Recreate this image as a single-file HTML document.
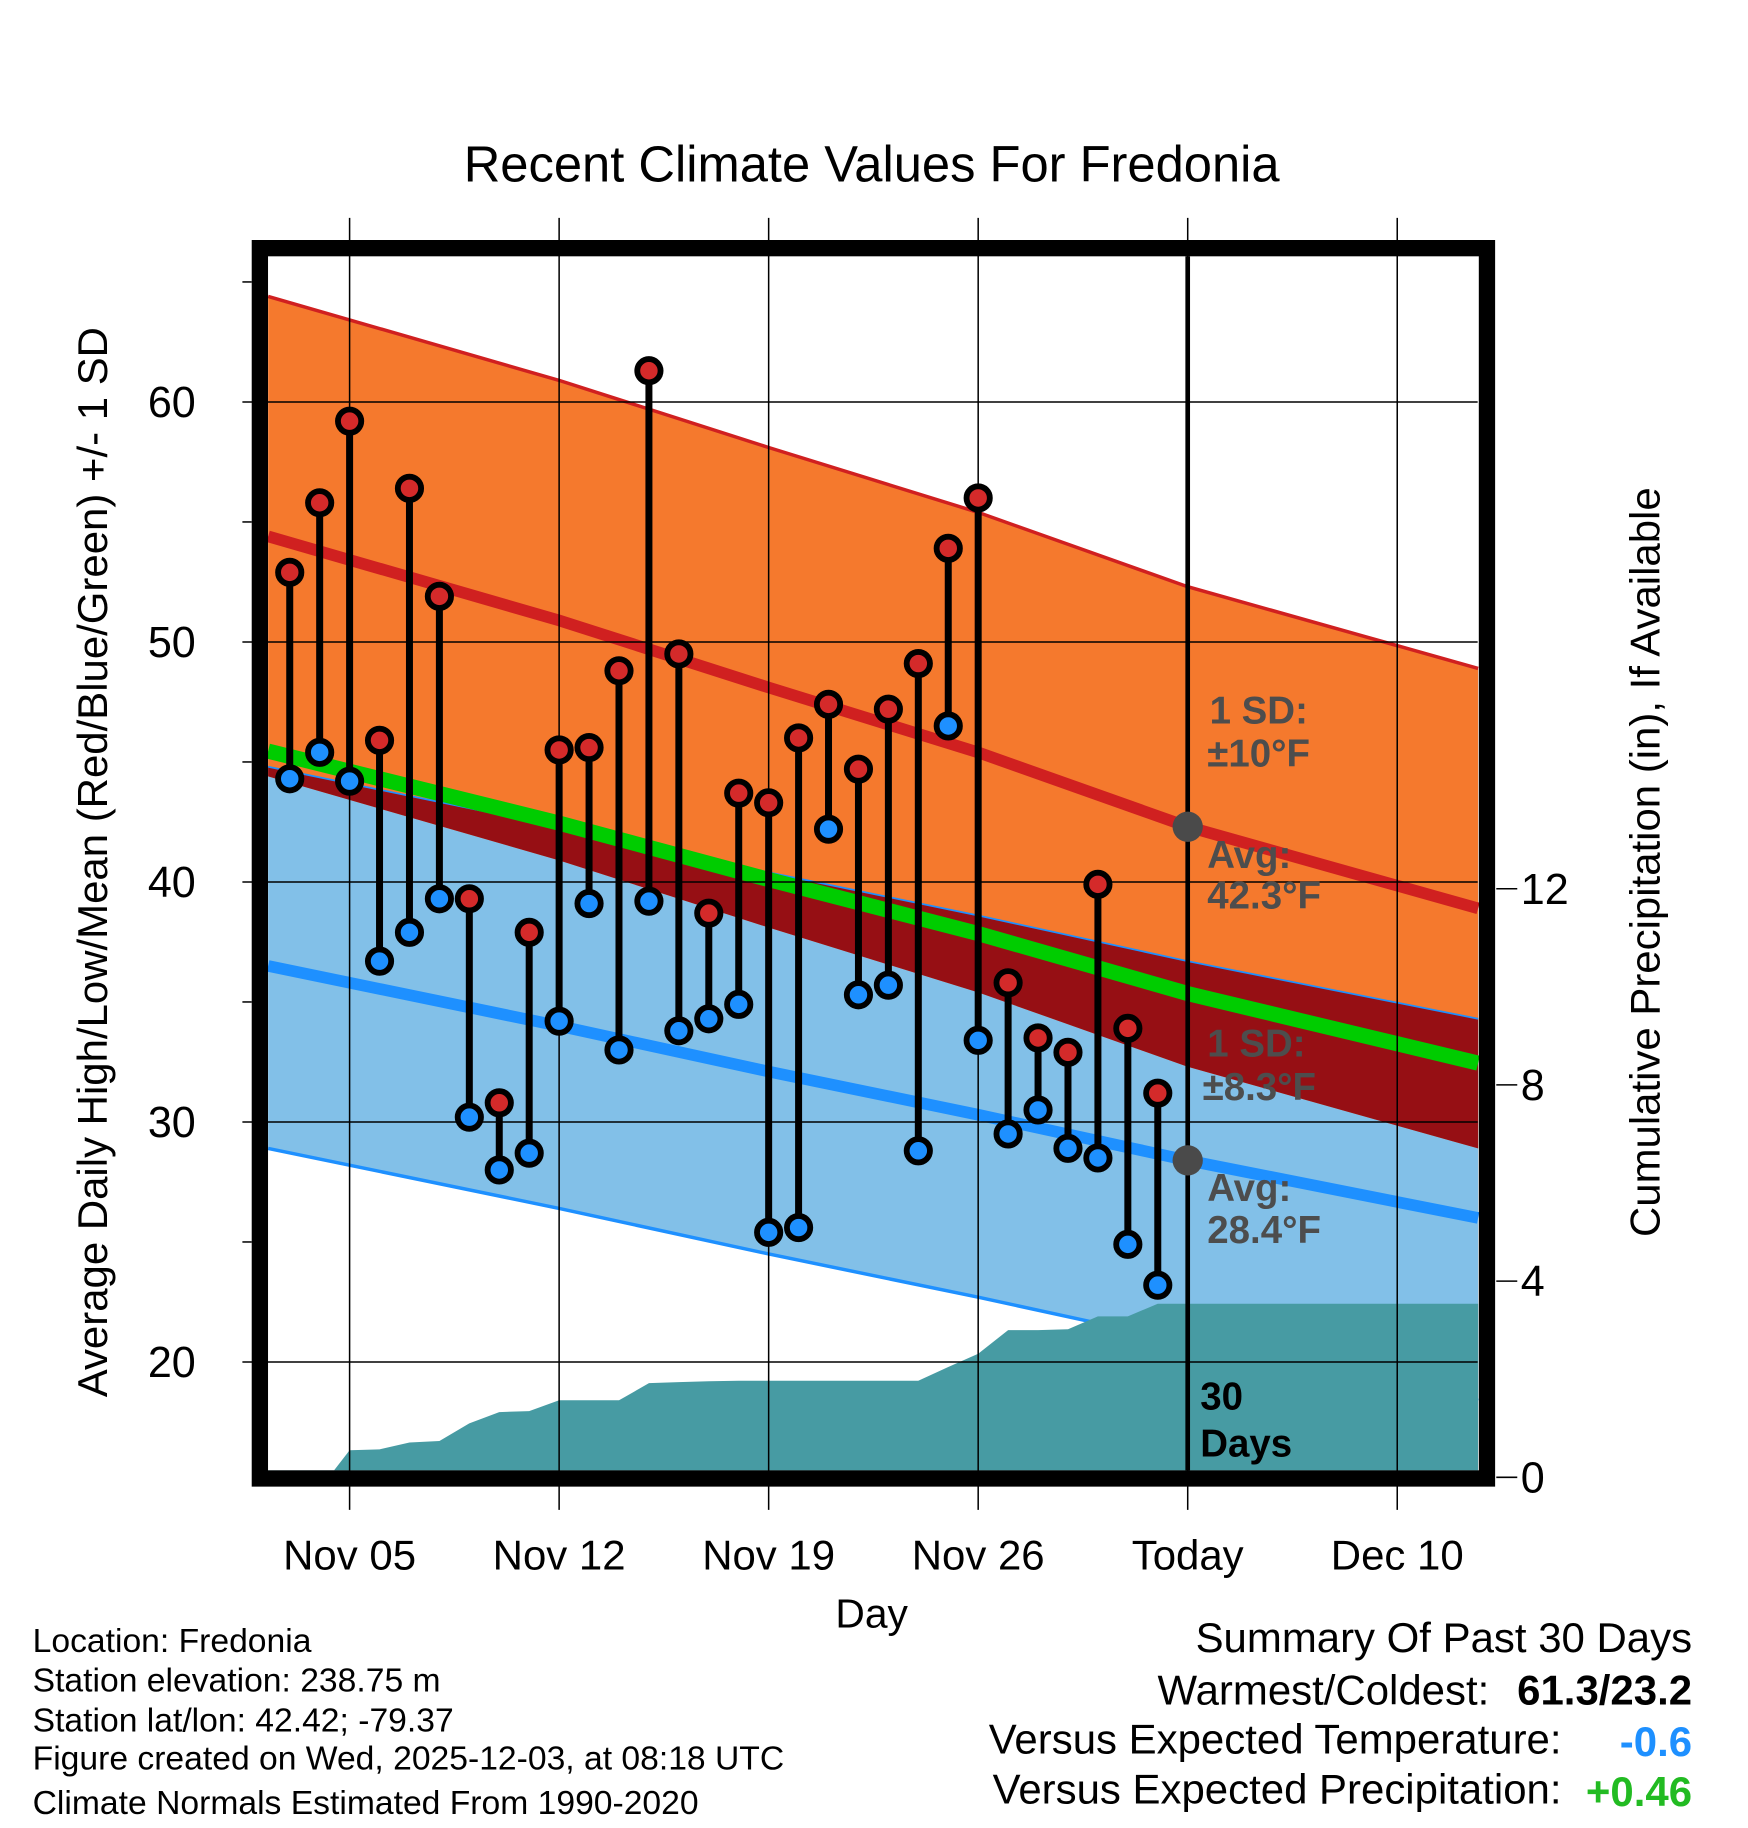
<!DOCTYPE html>
<html><head><meta charset="utf-8"><style>
html,body{margin:0;padding:0;background:#fff}
svg{display:block;font-family:"Liberation Sans",Arial,sans-serif}
</style></head><body>
<svg id="chart" width="1748" height="1828" viewBox="0 0 1500 1569" preserveAspectRatio="none" xmlns="http://www.w3.org/2000/svg">
<g id="bands"></g>
<g id="precip"></g>
<g id="lines"></g>
<g id="grid"></g>
<g id="marks"></g>
<g id="annot"></g>
<g id="frame"></g>
<g id="texts"></g>
</svg>
<script>
// ---- data ----
const dayLabels = ["Nov 05","Nov 12","Nov 19","Nov 26","Today","Dec 10"];
const dayTicks = [5,12,19,26,33,40];
const tempTicks = [20,30,40,50,60];
const minorTicks = [25,35,45,55,65];
const precipTicks = [0,4,8,12];
const normDays = [2.28,12,19,26,33,42.7];
const highNormal = [54.4,50.9,48.1,45.4,42.3,38.9];
const lowNormal = [36.5,34.0,32.1,30.3,28.4,26.0];
const highSD = 10;
const lowSD = 8.3;
const lowSDBelow = 7.6;
const obsDays = [3,4,5,6,7,8,9,10,11,12,13,14,15,16,17,18,19,20,21,22,23,24,25,26,27,28,29,30,31,32];
const highs = [52.9,55.8,59.2,45.9,56.4,51.9,39.3,30.8,37.9,45.5,45.6,48.8,61.3,49.5,38.7,43.7,43.3,46.0,47.4,44.7,47.2,49.1,53.9,56.0,35.8,33.5,32.9,39.9,33.9,31.2];
const lows = [44.3,45.4,44.2,36.7,37.9,39.3,30.2,28.0,28.7,34.2,39.1,33.0,39.2,33.8,34.3,34.9,25.4,25.6,42.2,35.3,35.7,28.8,46.5,33.4,29.5,30.5,28.9,28.5,24.9,23.2];
const precipDays = [2.28,4.3,5,6,7,8,9,10,11,12,13,14,15,16,17,18,24,25,26,27,28,29,30,31,32,42.7];
const precipCum = [0,0,0.55,0.57,0.71,0.74,1.10,1.33,1.35,1.57,1.57,1.57,1.92,1.94,1.96,1.97,1.97,2.25,2.52,3.0,3.0,3.02,3.28,3.28,3.54,3.54];

// ---- scales ----
const X0=230,X1=1268,Y0=220,Y1=1262;
const x = d => 300 + (d-5)*179.8/7;
const y = v => 1169 - (v-20)*20.6;
const yp = p => 1268 - p*42.1;
const NS="http://www.w3.org/2000/svg";
function mk(tag, parent, attrs){const e=document.createElementNS(NS,tag);for(const k in attrs)e.setAttribute(k,attrs[k]);document.getElementById(parent).appendChild(e);return e;}
function pts(days, vals){return days.map((d,i)=>x(d).toFixed(1)+","+y(vals[i]).toFixed(1));}
const hiUp=highNormal.map(v=>v+highSD), hiLo=highNormal.map(v=>v-highSD);
const loUp=lowNormal.map(v=>v+lowSD), loLo=lowNormal.map(v=>v-lowSDBelow);
const mean=highNormal.map((v,i)=>(v+lowNormal[i])/2);
const rev=a=>a.slice().reverse();
let e;
e=mk('polygon','bands',{points:pts(normDays,loUp).concat(rev(pts(normDays,loLo))).join(' '),fill:'#82c0e8'});


e=mk('polygon','bands',{points:pts(normDays,hiUp).concat(rev(pts(normDays,hiLo))).join(' '),fill:'#f5792d'});


e=mk('polygon','bands',{points:pts(normDays,loUp).concat(rev(pts(normDays,hiLo))).join(' '),fill:'#960f14'});


e=mk('polyline','bands',{points:pts(normDays,hiUp).join(' '),fill:'none',stroke:'#d02020','stroke-width':3});


e=mk('polyline','bands',{points:pts(normDays,loUp).join(' '),fill:'none',stroke:'#1e90ff','stroke-width':1.5});


e=mk('polyline','bands',{points:pts(normDays,loLo).join(' '),fill:'none',stroke:'#1e90ff','stroke-width':3});


// precip
const pp=precipDays.map((d,i)=>x(d).toFixed(1)+","+yp(precipCum[i]).toFixed(1));
e=mk('polygon','precip',{points:pp.join(' ')+` ${x(42.7)},${Y1} ${X0},${Y1}`,fill:'#479ba3'});


// normal lines
e=mk('polyline','lines',{points:pts(normDays,mean).join(' '),fill:'none',stroke:'#00cc00','stroke-width':13});


e=mk('polyline','lines',{points:pts(normDays,highNormal).join(' '),fill:'none',stroke:'#d02020','stroke-width':10});


e=mk('polyline','lines',{points:pts(normDays,lowNormal).join(' '),fill:'none',stroke:'#1e90ff','stroke-width':10});


// grid
tempTicks.forEach(v=>{
  e=mk('line','grid',{x1:208,x2:X1,y1:y(v),y2:y(v),stroke:'#000','stroke-width':1.3});
  
  
  e=mk('text','texts',{x:168,y:y(v)+13,'text-anchor':'end','font-size':37});
  e.textContent=v;
  
  
});
minorTicks.forEach(v=>{
  e=mk('line','grid',{x1:208,x2:216,y1:y(v),y2:y(v),stroke:'#000','stroke-width':1.3});
  
  
});
dayTicks.forEach((d,i)=>{
  e=mk('line','grid',{x1:x(d),x2:x(d),y1:187,y2:1296,stroke:'#000','stroke-width':1.3});
  
  
  e=mk('text','texts',{x:x(d),y:1347,'text-anchor':'middle','font-size':36});
  e.textContent=dayLabels[i];
  
  
});
precipTicks.forEach(p=>{
  e=mk('line','grid',{x1:1284,x2:1302,y1:yp(p),y2:yp(p),stroke:'#000','stroke-width':1.3});
  
  
  e=mk('text','texts',{x:1305,y:yp(p)+13,'font-size':37});
  e.textContent=p;
  
  
});
// today line
e=mk('line','annot',{x1:x(33),x2:x(33),y1:Y0,y2:Y1,stroke:'#000','stroke-width':4});


// marks
obsDays.forEach((d,i)=>{
  e=mk('line','marks',{x1:x(d),x2:x(d),y1:y(highs[i]),y2:y(lows[i]),stroke:'#000','stroke-width':6});
  
  
  e=mk('circle','marks',{cx:x(d),cy:y(highs[i]),r:10,fill:'#d42a2a',stroke:'#000','stroke-width':5});
  
  
  e=mk('circle','marks',{cx:x(d),cy:y(lows[i]),r:10,fill:'#1e90ff',stroke:'#000','stroke-width':5});
  
  
});
e=mk('circle','annot',{cx:x(33),cy:y(highNormal[4]),r:13,fill:'#4a4a4a'});


e=mk('circle','annot',{cx:x(33),cy:y(lowNormal[4]),r:13,fill:'#4a4a4a'});


const ann=[["1 SD:",1038,621,'#4d4d4d'],["±10°F",1036,658,'#4d4d4d'],["Avg:",1036,745,'#4d4d4d'],["42.3°F",1036,780,'#4d4d4d'],["1 SD:",1036,907,'#4d4d4d'],["±8.3°F",1032,944,'#4d4d4d'],["Avg:",1036,1031,'#4d4d4d'],["28.4°F",1036,1067,'#4d4d4d'],["30",1030,1210,'#000'],["Days",1030,1250,'#000']];
ann.forEach(a=>{
  e=mk('text','annot',{x:a[1],y:a[2],'font-size':33,'font-weight':'bold',fill:a[3]});
  e.textContent=a[0];
  
  
});
e=mk('rect','frame',{x:223,y:213,width:1053,height:1056,fill:'none',stroke:'#000','stroke-width':14});


// texts
function t(s,xx,yy,size,opts,name){const el=mk('text','texts',Object.assign({x:xx,y:yy,'font-size':size},opts||{}));el.textContent=s;return el;}
t("Recent Climate Values For Fredonia",748,156,43.5,{'text-anchor':'middle'},'chart-title');
t("Day",748,1397,35,{'text-anchor':'middle'},'x-axis-title');
t("Average Daily High/Low/Mean (Red/Blue/Green) +/- 1 SD",92,740,36,{'text-anchor':'middle',transform:'rotate(-90 92 740)'},'y-axis-title');
t("Cumulative Precipitation (in), If Available",1424,740,36,{'text-anchor':'middle',transform:'rotate(-90 1424 740)'},'right-axis-title');
const info=["Location: Fredonia","Station elevation: 238.75 m","Station lat/lon: 42.42; -79.37","Figure created on Wed, 2025-12-03, at 08:18 UTC","Climate Normals Estimated From 1990-2020"];
const infoY=[1418,1452,1486,1519,1557];
info.forEach((s,i)=>t(s,28,infoY[i],28.9,{},'station-info-line'));
t("Summary Of Past 30 Days",1452,1418,36,{'text-anchor':'end'},'summary-title');
t("Warmest/Coldest:",1278,1463,36,{'text-anchor':'end'},'warmest-coldest-label');
t("61.3/23.2",1452,1463,36,{'text-anchor':'end','font-weight':'bold'},'warmest-coldest-value');
t("Versus Expected Temperature:",1340,1505,36,{'text-anchor':'end'},'temp-departure-label');
t("-0.6",1452,1507,36,{'text-anchor':'end','font-weight':'bold',fill:'#1e90ff'},'temp-departure-value');
t("Versus Expected Precipitation:",1340,1548,36,{'text-anchor':'end'},'precip-departure-label');
t("+0.46",1452,1550,36,{'text-anchor':'end','font-weight':'bold',fill:'#22bb22'},'precip-departure-value');
</script>
</body></html>
